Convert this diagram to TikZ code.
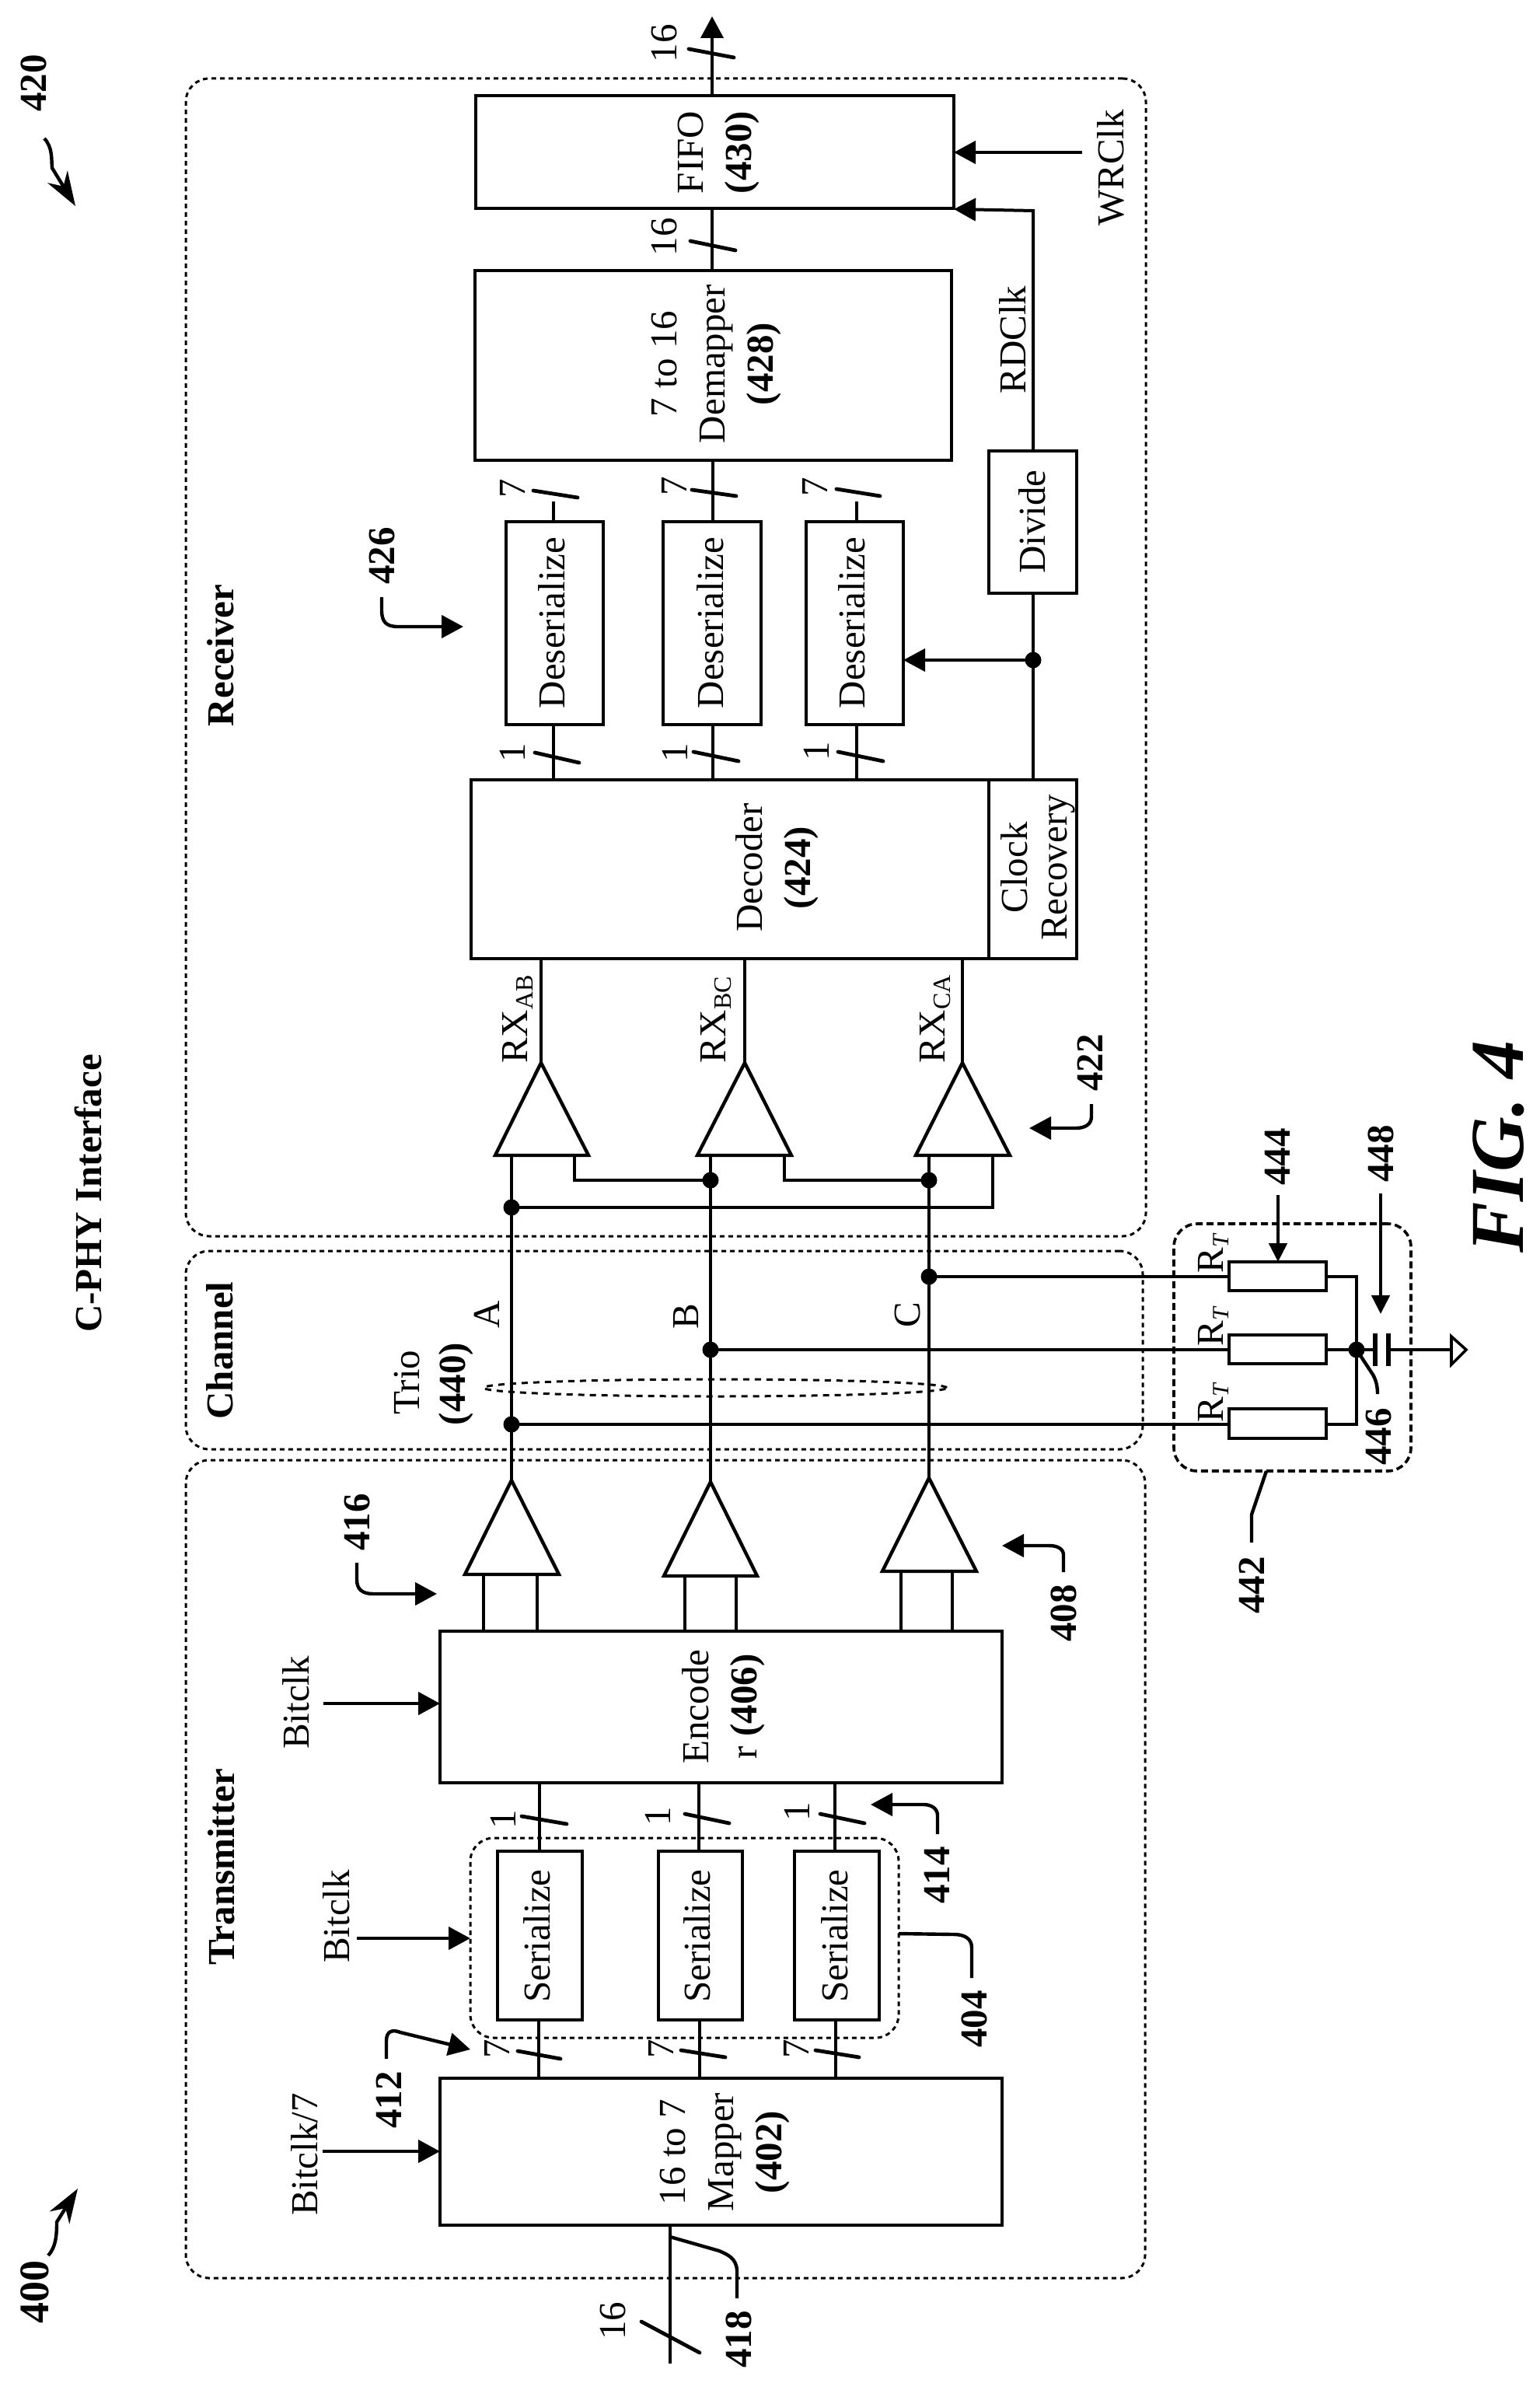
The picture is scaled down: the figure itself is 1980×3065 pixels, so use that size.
\documentclass[tikz,border=0pt]{standalone}
\usepackage{fontspec}
\setmainfont{Liberation Serif}
\usetikzlibrary{arrows.meta,calc,shapes.geometric}
\tikzset{
  boxst/.style={draw,line width=2.2pt,inner sep=0pt,outer sep=0pt},
  groupst/.style={draw,rounded corners=15pt,line width=1.5pt,dash pattern=on 3pt off 2.5pt,inner sep=0pt,outer sep=0pt},
  rgroupst/.style={draw,rounded corners=15pt,line width=1.8pt,dash pattern=on 4.5pt off 2.5pt,inner sep=0pt,outer sep=0pt},
  wire/.style={line width=2pt},
  tickst/.style={line width=2.4pt,line cap=round},
  arr/.style={line width=2.2pt,-{Triangle[length=14pt,width=14.5pt]}},
  bigarr/.style={line width=2.2pt,-{Stealth[length=22pt,width=15pt]}},
  dot/.style={circle,fill=black,inner sep=0pt,minimum size=10.5pt},
  lab/.style={rotate=90,anchor=base,inner sep=0pt,outer sep=0pt,font=\fontsize{24.5}{31}\selectfont},
  blab/.style={rotate=90,anchor=base,inner sep=0pt,outer sep=0pt,font=\fontsize{24.5}{31}\selectfont\bfseries},
  mlab/.style={rotate=90,anchor=center,align=center,inner sep=0pt,outer sep=0pt,font=\fontsize{24.5}{31}\selectfont},
  slab/.style={rotate=90,anchor=base west,inner sep=0pt,outer sep=0pt,font=\fontsize{24.5}{31}\selectfont},
}
\newcommand\bx[5]{\node[boxst,minimum width={(#4-#2)*0.5pt},minimum height={(#5-#3)*0.5pt}] (#1) at ({(#2+#4)/2},{(#3+#5)/2}) {};}
\newcommand\grp[6]{\node[#6,minimum width={(#4-#2)*0.5pt},minimum height={(#5-#3)*0.5pt}] (#1) at ({(#2+#4)/2},{(#3+#5)/2}) {};}
\newcommand\tk[4]{\draw[tickst] (#1,#2) -- (#3,#4);}
\newcommand\sub[1]{{\fontsize{16}{16}\selectfont\raisebox{-3.5pt}{#1}}}
\newcommand\subT{{\fontsize{15}{15}\selectfont\itshape\raisebox{-3.5pt}{T}}}
\begin{document}
\begin{tikzpicture}[x=0.5pt,y=-0.5pt]
\path[use as bounding box,fill=white] (0,0) rectangle (1980,3065);

% groups
\grp{rxg}{239}{101}{1474}{1590}{groupst}
\grp{chg}{239}{1609}{1470}{1864}{groupst}
\grp{txg}{239}{1878}{1473}{2930}{groupst}
\grp{rtg}{1510}{1574}{1815}{1892}{rgroupst}
\grp{serg}{605}{2364}{1156}{2621}{groupst}

% receiver boxes
\bx{fifo}{612}{123}{1227}{268}
\bx{demap}{611}{348}{1224}{592}
\bx{des1}{651}{671}{776}{932}
\bx{des2}{853}{671}{979}{932}
\bx{des3}{1037}{671}{1162}{932}
\bx{divide}{1272}{580}{1385}{763}
\bx{dec}{606}{1003}{1272}{1233}
\bx{clk}{1272}{1003}{1385}{1233}
% transmitter boxes
\bx{enc}{566}{2098}{1289}{2293}
\bx{ser1}{640}{2381}{749}{2598}
\bx{ser2}{847}{2381}{955}{2598}
\bx{ser3}{1022}{2381}{1131}{2598}
\bx{map}{566}{2673}{1289}{2862}
% resistors
\bx{r1}{1581}{1623}{1706}{1660}
\bx{r2}{1581}{1717}{1706}{1754}
\bx{r3}{1581}{1812}{1706}{1850}

% box texts
\node[mlab] (tfifo) at (924,196) {FIFO\\\textbf{(430)}};
\node[mlab] (tdemap) at (921,468) {7 to 16\\Demapper\\\textbf{(428)}};
\node[lab] (tdes1) at (726,801) {Deserialize};
\node[lab] (tdes2) at (930,801) {Deserialize};
\node[lab] (tdes3) at (1112,801) {Deserialize};
\node[lab] (tdiv) at (1344,671) {Divide};
\node[mlab] (tdec) at (1000,1116) {Decoder\\\textbf{(424)}};
\node[mlab,font=\fontsize{24.5}{25.5}\selectfont] (tclk) at (1335,1116) {Clock\\Recovery};
\node[mlab] (tenc) at (931,2195) {Encode\\r \textbf{(406)}};
\node[lab] (tser1) at (707,2490) {Serialize};
\node[lab] (tser2) at (913,2490) {Serialize};
\node[lab] (tser3) at (1090,2490) {Serialize};
\node[mlab] (tmap) at (932,2768) {16 to 7\\Mapper\\\textbf{(402)}};

% receiver connectors
\coordinate (out) at (916,21);
\draw[wire,-{Triangle[length=14pt,width=14.5pt]}] (916,0 |- fifo.north) -- (out);
\draw[wire] (916,0 |- demap.north) -- (916,0 |- fifo.south);
\coordinate (d1t) at (712,645);
\coordinate (d3t) at (1102,645);
\draw[wire] (712,0 |- des1.north) -- (d1t);
\draw[wire] (917,0 |- des2.north) -- (917,0 |- demap.south);
\draw[wire] (1102,0 |- des3.north) -- (d3t);
\draw[wire] (712,0 |- dec.north) -- (712,0 |- des1.south);
\draw[wire] (917,0 |- dec.north) -- (917,0 |- des2.south);
\draw[wire] (1102,0 |- dec.north) -- (1102,0 |- des3.south);
\node[dot] (dclk) at (1329,849) {};
\draw[wire] (1329,0 |- clk.north) -- (1329,0 |- divide.south);
\draw[arr,line width=2pt] (dclk.center) -- (des3.east |- dclk.center);
\draw[arr,line width=2pt] (1329,0 |- divide.north) -- (1329,271) -- (fifo.east |- 0,269);
\coordinate (wrs) at (1392,196);
\draw[arr] (wrs) -- (fifo.east |- wrs);

% amplifiers (receiver)
\coordinate (ra) at (696,1367);
\coordinate (rb) at (958,1367);
\coordinate (rc) at (1238,1367);
\draw[boxst] (ra) -- (637,1486) -- (757,1486) -- cycle;
\draw[boxst] (rb) -- (897,1486) -- (1018,1486) -- cycle;
\draw[boxst] (rc) -- (1178,1486) -- (1299,1486) -- cycle;
\draw[wire] (696,0 |- dec.south) -- (ra);
\draw[wire] (958,0 |- dec.south) -- (rb);
\draw[wire] (1238,0 |- dec.south) -- (rc);

% amplifiers (transmitter)
\coordinate (ta) at (658,1904);
\coordinate (tb) at (914,1906);
\coordinate (tc) at (1195,1901);
\draw[boxst] (ta) -- (598,2025) -- (719,2025) -- cycle;
\draw[boxst] (tb) -- (854,2027) -- (974,2027) -- cycle;
\draw[boxst] (tc) -- (1135,2021) -- (1256,2021) -- cycle;
\draw[wire] (622,2025) -- (622,0 |- enc.north);
\draw[wire] (691,2025) -- (691,0 |- enc.north);
\draw[wire] (881,2027) -- (881,0 |- enc.north);
\draw[wire] (947,2027) -- (947,0 |- enc.north);
\draw[wire] (1159,2021) -- (1159,0 |- enc.north);
\draw[wire] (1225,2021) -- (1225,0 |- enc.north);

% trio wires
\coordinate (ar) at (658,1486);
\coordinate (br) at (914,1486);
\coordinate (cr) at (1195,1486);
\draw[wire] (ta) -- (ar);
\draw[wire] (tb) -- (br);
\draw[wire] (tc) -- (cr);
\node[dot] (dA) at (658,1553) {};
\node[dot] (dB) at (914,1518) {};
\node[dot] (dC) at (1195,1518) {};
\node[dot] (dA2) at (658,1832) {};
\node[dot] (dB2) at (914,1736) {};
\node[dot] (dC2) at (1195,1642) {};
\draw[wire] (739,1486) |- (dB.center);
\draw[wire] (1009,1486) |- (dC.center);
\draw[wire] (1277,1486) |- (dA.center);
\draw[wire] (dC2.center) -- (r1.west |- dC2.center);
\draw[wire] (dB2.center) -- (r2.west |- dB2.center);
\draw[wire] (dA2.center) -- (r3.west |- dA2.center);
\node[draw,ellipse,inner sep=0pt,line width=1.5pt,dash pattern=on 4pt off 3.5pt,minimum width=298pt,minimum height=11pt] (trio) at (920,1785) {};

% termination
\node[dot] (dn) at (1745,1736) {};
\draw[wire] (r1.east |- dC2.center) -| (dn.center);
\draw[wire] (r3.east |- dA2.center) -| (dn.center);
\draw[wire] (r2.east |- dn.center) -- (dn.center);
\coordinate (c1) at (1769,1736);
\coordinate (c2) at (1786,1736);
\coordinate (gnd) at (1867,1736);
\draw[wire] (dn.center) -- (c1);
\draw[wire] (c2) -- (gnd);
\draw[line width=2.6pt] (1769,1715) -- (1769,1757);
\draw[line width=2.6pt] (1786,1715) -- (1786,1757);
\draw[line width=1.8pt,line join=miter] (gnd |- 0,1719) -- (1886,1736) -- (gnd |- 0,1755) -- cycle;

% transmitter connectors
\draw[wire] (694,0 |- enc.south) -- (694,0 |- ser1.north);
\draw[wire] (899,0 |- enc.south) -- (899,0 |- ser2.north);
\draw[wire] (1074,0 |- enc.south) -- (1074,0 |- ser3.north);
\draw[wire] (693,0 |- ser1.south) -- (693,0 |- map.north);
\draw[wire] (900,0 |- ser2.south) -- (900,0 |- map.north);
\draw[wire] (1075,0 |- ser3.south) -- (1075,0 |- map.north);
\coordinate (ins) at (862,3040);
\draw[wire] (862,0 |- map.south) -- (ins);
\coordinate (bk7) at (415,2767);
\coordinate (bks) at (459,2493);
\coordinate (bke) at (416,2191);
\draw[arr] (bk7) -- (map.west |- bk7);
\draw[arr] (bks) -- (serg.west |- bks);
\draw[arr] (bke) -- (enc.west |- bke);

% bus ticks
\tk{886}{63}{944}{74}
\tk{888}{310}{946}{322}
\tk{686}{631}{743}{640}
\tk{890}{630}{947}{638}
\tk{1076}{629}{1132}{638}
\tk{688}{968}{745}{981}
\tk{892}{967}{950}{979}
\tk{1078}{967}{1136}{979}
\tk{671}{2336}{729}{2346}
\tk{881}{2333}{938}{2345}
\tk{1055}{2333}{1112}{2345}
\tk{666}{2638}{721}{2648}
\tk{876}{2637}{933}{2646}
\tk{1049}{2637}{1105}{2646}
\tk{825}{2986}{900}{3026}

% width labels
\node[lab] (n16a) at (870,56) {16};
\node[lab] (n16b) at (870,305) {16};
\node[lab] (n7a) at (675,628) {7};
\node[lab] (n7b) at (883,625) {7};
\node[lab] (n7c) at (1064,626) {7};
\node[lab] (n1a) at (675,968) {1};
\node[lab] (n1b) at (884,968) {1};
\node[lab] (n1c) at (1066,966) {1};
\node[lab] (n1d) at (663,2340) {1};
\node[lab] (n1e) at (862,2336) {1};
\node[lab] (n1f) at (1041,2330) {1};
\node[lab] (n7d) at (655,2635) {7};
\node[lab] (n7e) at (866,2635) {7};
\node[lab] (n7f) at (1040,2635) {7};
\node[lab] (n16c) at (804,2985) {16};

% signal labels
\node[lab] (lwr) at (1445,216) {WRClk};
\node[lab] (lrd) at (1319,437) {RDClk};
\node[slab] (lrxa) at (678,1367) {RX\sub{AB}};
\node[slab] (lrxb) at (933,1367) {RX\sub{BC}};
\node[slab] (lrxc) at (1215,1367) {RX\sub{CA}};
\node[lab] (la) at (642,1691) {A};
\node[lab] (lb) at (898,1693) {B};
\node[lab] (lc) at (1183,1691) {C};
\node[lab] (ltrio) at (539,1778) {Trio};
\node[blab] (l440) at (598,1780) {(440)};
\node[slab] (lr1) at (1573,1637) {R\subT};
\node[slab] (lr2) at (1573,1731) {R\subT};
\node[slab] (lr3) at (1573,1829) {R\subT};
\node[lab] (lb7) at (408,2771) {Bitclk/7};
\node[lab] (lb1) at (449,2465) {Bitclk};
\node[lab] (lb2) at (397,2190) {Bitclk};

% section titles
\node[blab] (ttl) at (130,1535) {C-PHY Interface};
\node[blab] (trx) at (300,843) {Receiver};
\node[blab] (tch) at (299,1737) {Channel};
\node[blab] (ttx) at (301,2401) {Transmitter};
\node[rotate=90,anchor=base,inner sep=0pt,font=\fontsize{49}{49}\selectfont\bfseries\itshape] (fig) at (1959,1475) {FIG. 4};

% reference numerals
\node[blab] (l420) at (59,107) {420};
\node[blab,font=\fontsize{27}{27}\selectfont\bfseries] (l400) at (62,2948) {400};
\node[blab] (l426) at (507,715) {426};
\node[blab] (l422) at (1418,1367) {422};
\node[blab] (l444) at (1659,1488) {444};
\node[blab] (l448) at (1792,1484) {448};
\node[blab] (l446) at (1789,1848) {446};
\node[blab] (l442) at (1626,2039) {442};
\node[blab] (l418) at (966,3009) {418};
\node[blab] (l412) at (516,2701) {412};
\node[blab] (l404) at (1269,2597) {404};
\node[blab] (l414) at (1221,2412) {414};
\node[blab] (l408) at (1384,2075) {408};
\node[blab] (l416) at (475,1958) {416};

% leaders
\coordinate (s420) at (57,178);
\coordinate (e420) at (97,265);
\draw[bigarr] (s420) .. controls (68,190) and (66,205) .. (67,216) -- (e420);
\coordinate (s400) at (62,2901);
\coordinate (e400) at (100,2815);
\draw[bigarr] (s400) .. controls (72,2890) and (73,2875) .. (73,2858) -- (e400);
\coordinate (s426) at (491,768);
\coordinate (e426) at (596,806);
\draw[arr] (s426) -- (491,785) .. controls (491,800) and (497,806) .. (512,806) -- (e426);
\coordinate (s422) at (1404,1420);
\coordinate (e422) at (1324,1451);
\draw[arr] (s422) -- (1404,1436) .. controls (1404,1446) and (1396,1451) .. (1384,1451) -- (e422);
\coordinate (s444) at (1644,1537);
\draw[arr,line width=2.4pt,-{Triangle[length=12pt,width=11.5pt]}] (s444) -- (1644,0 |- r1.north) ;
\coordinate (s448) at (1776,1535);
\coordinate (e448) at (1776,1690);
\draw[arr,line width=2.4pt,-{Triangle[length=12pt,width=11.5pt]}] (s448) -- (e448);
\coordinate (e446) at (1772,1793);
\draw[wire,line width=2.2pt] (dn.center) -- (1766,1768) .. controls (1770,1775) and (1772,1783) .. (e446);
\coordinate (s442) at (1610,1984);
\draw[wire,line width=2.2pt] (s442) -- (1610,1948) -- (1629,0 |- rtg.south);
\coordinate (s418) at (948,2956);
\draw[wire,line width=2.2pt] (s418) -- (948,2920) .. controls (947,2905) and (937,2900) .. (925,2895) -- (862,2877);
\coordinate (s412) at (497,2648);
\coordinate (e412) at (605,2636);
\draw[arr] (s412) -- (497,2625) .. controls (497,2612) and (505,2610) .. (515,2614) -- (e412);
\coordinate (s404) at (1250,2544);
\draw[wire,line width=2.2pt] (s404) -- (1250,2505) .. controls (1250,2493) and (1240,2488) .. (1227,2488) -- (serg.east |- 0,2487);
\coordinate (s414) at (1206,2359);
\coordinate (e414) at (1120,2321);
\draw[arr] (s414) -- (1206,2335) .. controls (1206,2326) and (1198,2321) .. (1188,2321) -- (e414);
\coordinate (s408) at (1368,2022);
\coordinate (e408) at (1289,1988);
\draw[arr] (s408) -- (1368,2000) .. controls (1368,1992) and (1360,1988) .. (1350,1988) -- (e408);
\coordinate (s416) at (459,2010);
\coordinate (e416) at (562,2050);
\draw[arr] (s416) -- (459,2032) .. controls (459,2044) and (466,2050) .. (480,2050) -- (e416);
\end{tikzpicture}
\end{document}
